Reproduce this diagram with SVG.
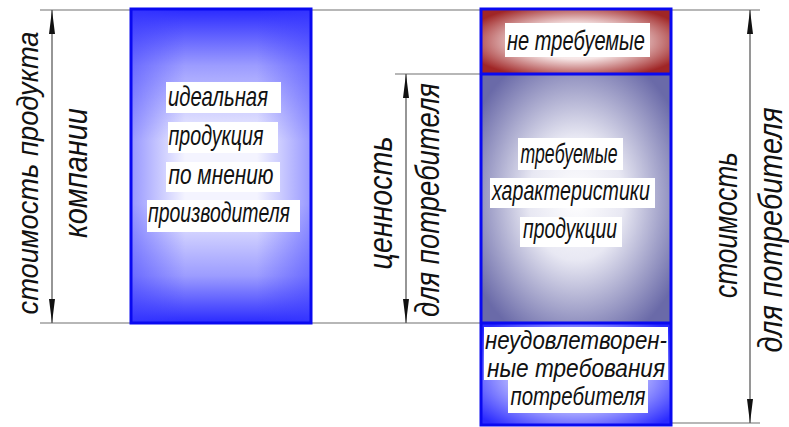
<svg xmlns="http://www.w3.org/2000/svg" width="789" height="427" viewBox="0 0 789 427">
<style>
.ext{stroke:#707070;stroke-width:1.2;fill:none}
.dim{stroke:#505050;stroke-width:1.2;fill:none;marker-start:url(#ah);marker-end:url(#ah)}
.bx{stroke:#0a0af0;stroke-width:3;fill:none}
.t{font-family:"Liberation Sans",Arial,sans-serif;font-style:italic;fill:#111}
.lbl{font-size:33px;text-anchor:middle}
.edge{font-size:30px}
.in{font-size:28px;text-anchor:middle}
.sm{font-size:26px}
.bg{fill:#ffffff}
</style>
<defs>
<marker id="ah" viewBox="0 0 24 8" refX="24" refY="4" markerWidth="24" markerHeight="8" markerUnits="userSpaceOnUse" orient="auto-start-reverse">
<path d="M0,1 L24,4 L0,7 Z" fill="#111"/>
</marker>
<linearGradient id="gBlueV" x1="0" y1="0" x2="0" y2="1">
<stop offset="0" stop-color="#2a2aff"/>
<stop offset="0.18" stop-color="#9c9cff"/>
<stop offset="0.42" stop-color="#f4f4ff"/>
<stop offset="0.62" stop-color="#f4f4ff"/>
<stop offset="0.85" stop-color="#9c9cff"/>
<stop offset="1" stop-color="#2a2aff"/>
</linearGradient>
<linearGradient id="gBlueH" x1="0" y1="0" x2="1" y2="0">
<stop offset="0" stop-color="#3a3aff" stop-opacity="0.5"/>
<stop offset="0.3" stop-color="#3a3aff" stop-opacity="0"/>
<stop offset="0.7" stop-color="#3a3aff" stop-opacity="0"/>
<stop offset="1" stop-color="#3a3aff" stop-opacity="0.5"/>
</linearGradient>
<radialGradient id="gRed" cx="0.5" cy="0.5" r="0.6">
<stop offset="0" stop-color="#ffffff"/>
<stop offset="0.45" stop-color="#f6e6e6"/>
<stop offset="1" stop-color="#a02626"/>
</radialGradient>
<radialGradient id="gGrey" cx="0.5" cy="0.5" r="0.62">
<stop offset="0" stop-color="#ffffff"/>
<stop offset="0.4" stop-color="#e8e8f3"/>
<stop offset="1" stop-color="#6a6aa8"/>
</radialGradient>
<radialGradient id="gBlueR" cx="0.5" cy="0.5" r="0.65">
<stop offset="0" stop-color="#ffffff"/>
<stop offset="0.45" stop-color="#c8c8ff"/>
<stop offset="1" stop-color="#2a2aff"/>
</radialGradient>
</defs>

<g id="connectors">
<line class="ext" x1="40" y1="10" x2="760" y2="10"/>
<line class="ext" x1="40" y1="323" x2="482" y2="323"/>
<line class="ext" x1="395" y1="74" x2="482" y2="74"/>
<line class="ext" x1="670" y1="423" x2="760" y2="423"/>
<line class="dim" x1="52" y1="10" x2="52" y2="323"/>
<line class="dim" x1="406" y1="74" x2="406" y2="323"/>
<line class="dim" x1="750" y1="10" x2="750" y2="423"/>
</g>

<g id="label-left">
<text class="t lbl edge" textLength="283" lengthAdjust="spacingAndGlyphs" transform="translate(38,173) rotate(-90)">стоимость продукта</text>
<text class="t lbl" textLength="130" lengthAdjust="spacingAndGlyphs" transform="translate(87,173) rotate(-90)">компании</text>
</g>

<g id="label-middle">
<text class="t lbl" textLength="133" lengthAdjust="spacingAndGlyphs" transform="translate(392,203) rotate(-90)">ценность</text>
<text class="t lbl" textLength="234" lengthAdjust="spacingAndGlyphs" transform="translate(439,200) rotate(-90)">для потребителя</text>
</g>

<g id="label-right">
<text class="t lbl" textLength="146" lengthAdjust="spacingAndGlyphs" transform="translate(737,225) rotate(-90)">стоимость</text>
<text class="t lbl" textLength="245" lengthAdjust="spacingAndGlyphs" transform="translate(782,230) rotate(-90)">для потребителя</text>
</g>

<g id="ideal">
<rect x="131" y="9" width="180" height="314" fill="url(#gBlueV)"/>
<rect x="131" y="9" width="180" height="314" fill="url(#gBlueH)"/>
<rect class="bx" x="131" y="9" width="180" height="314"/>
<rect class="bg" x="166" y="82" width="115" height="31"/>
<rect class="bg" x="168" y="122" width="110" height="31"/>
<rect class="bg" x="166" y="162" width="114" height="30"/>
<rect class="bg" x="147" y="200" width="153" height="32"/>
<text class="t in" x="218" y="106" textLength="100" lengthAdjust="spacingAndGlyphs">идеальная</text>
<text class="t in" x="216" y="145" textLength="95" lengthAdjust="spacingAndGlyphs">продукция</text>
<text class="t in" x="221" y="184" textLength="105" lengthAdjust="spacingAndGlyphs">по мнению</text>
<text class="t in" x="219" y="222" textLength="142" lengthAdjust="spacingAndGlyphs">производителя</text>
</g>

<g id="not-required">
<rect x="481" y="9" width="190" height="65" fill="url(#gRed)"/>
<rect class="bg" x="505" y="23" width="145" height="34"/>
<text class="t in" x="576" y="50" textLength="138" lengthAdjust="spacingAndGlyphs">не требуемые</text>
</g>

<g id="required">
<rect x="481" y="74" width="190" height="249" fill="url(#gGrey)"/>
<rect class="bg" x="518" y="138" width="105" height="32"/>
<rect class="bg" x="490" y="178" width="165" height="30"/>
<rect class="bg" x="520" y="217" width="102" height="30"/>
<text class="t in" x="569" y="163" textLength="97" lengthAdjust="spacingAndGlyphs">требуемые</text>
<text class="t in" x="571" y="200" textLength="158" lengthAdjust="spacingAndGlyphs">характеристики</text>
<text class="t in" x="570" y="238" textLength="94" lengthAdjust="spacingAndGlyphs">продукции</text>
</g>

<g id="unsatisfied">
<rect x="481" y="323" width="190" height="103" fill="url(#gBlueR)"/>
<rect class="bg" x="484" y="327" width="184" height="53"/>
<rect class="bg" x="508" y="380" width="140" height="33"/>
<text class="t in sm" x="576" y="349" textLength="182" lengthAdjust="spacingAndGlyphs">неудовлетворен-</text>
<text class="t in sm" x="576" y="377" textLength="178" lengthAdjust="spacingAndGlyphs">ные требования</text>
<text class="t in sm" x="578" y="405" textLength="135" lengthAdjust="spacingAndGlyphs">потребителя</text>
</g>

<g id="right-frame">
<rect class="bx" x="481" y="9" width="190" height="416"/>
<line class="bx" x1="481" y1="74" x2="671" y2="74"/>
<line class="bx" x1="481" y1="323" x2="671" y2="323"/>
</g>
</svg>
